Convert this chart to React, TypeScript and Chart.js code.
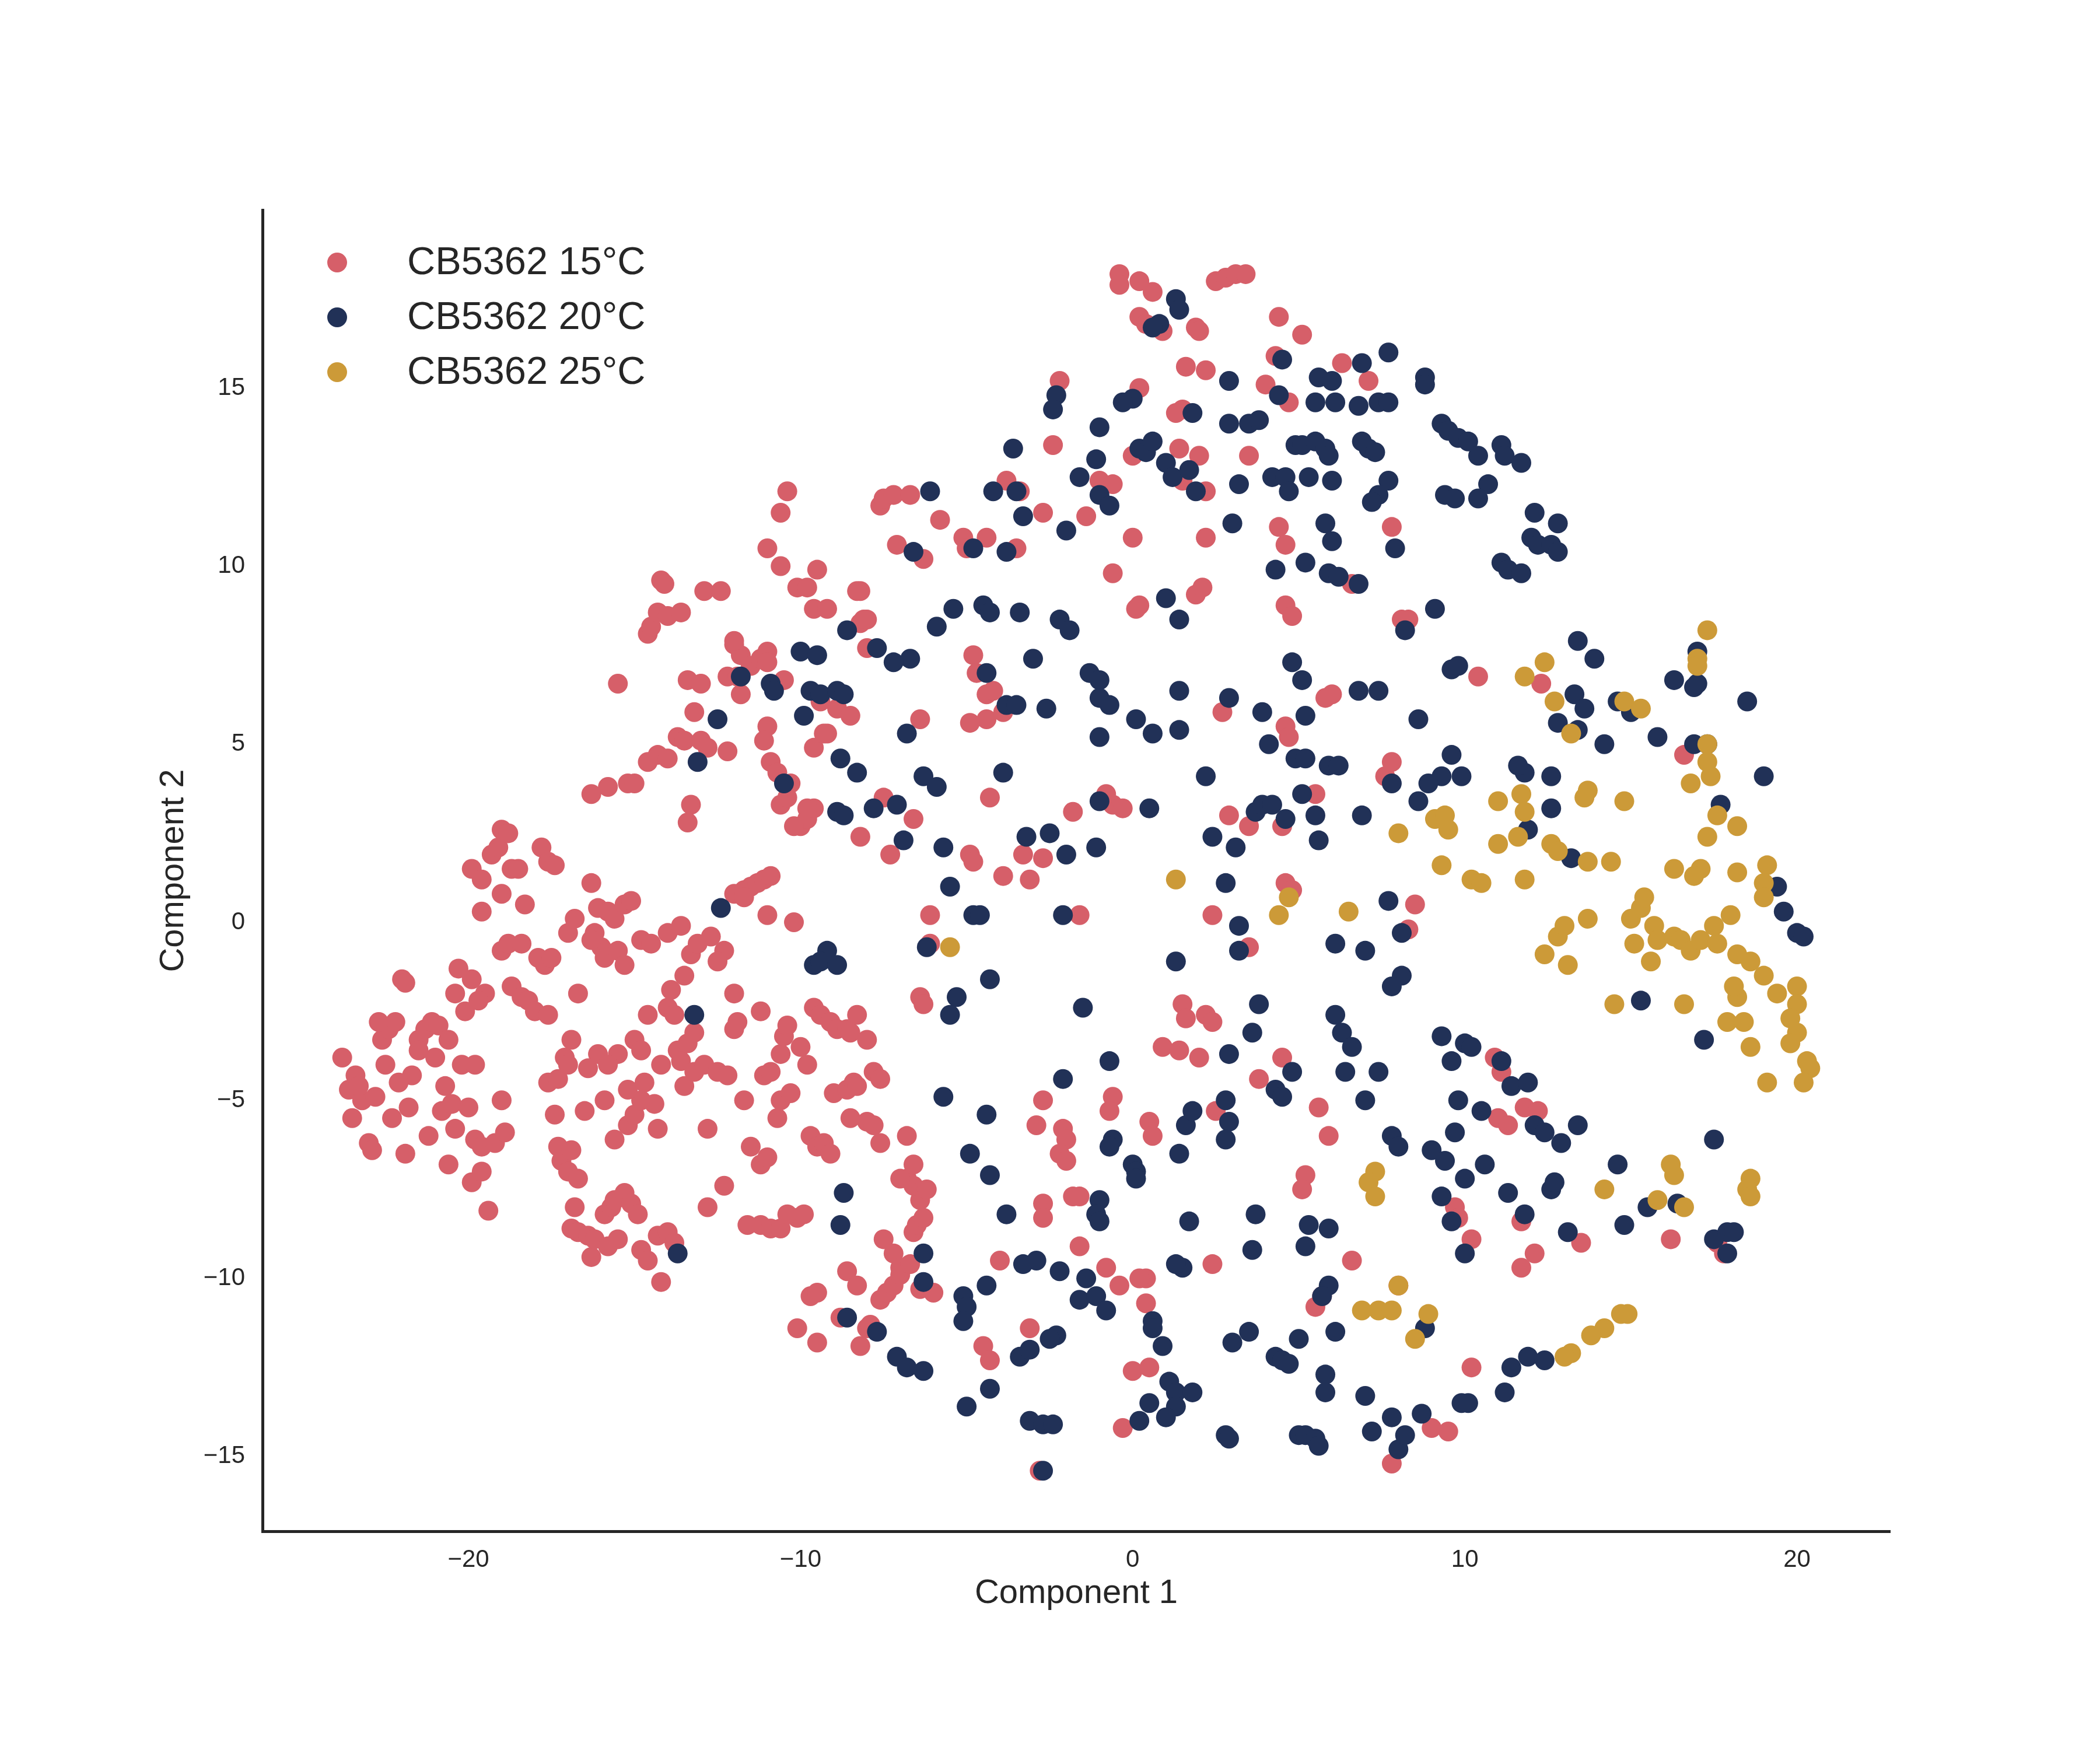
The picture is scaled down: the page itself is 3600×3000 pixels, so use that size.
import { useEffect, useRef } from "react";
import { Chart, ChartConfiguration, Plugin, registerables } from "chart.js";

Chart.register(...registerables);

const FONT = '"Liberation Sans", Arial, sans-serif';
const INK = "#262626";

const seriesLabels = ["CB5362 15°C", "CB5362 20°C", "CB5362 25°C"];
const seriesColors = ["#d65f69", "#213157", "#cc9a38"];

const xTicks = [-20, -10, 0, 10, 20];
const yTicks = [-15, -10, -5, 0, 5, 10, 15];
const xRange = [-26.2, 22.8];
const yRange = [-17.1, 20.0];

// 15°C
const red15: [number, number][] = [
  [-23.8,-3.8],[-23.6,-4.7],[-23.4,-4.3],[-23.2,-5.0],[-23.5,-5.5],[-23.0,-6.2],[-22.9,-6.4],[-22.8,-4.9],[-22.6,-3.3],[-22.5,-4.0],
  [-22.4,-3.0],[-22.3,-5.5],[-22.2,-2.8],[-22.0,-1.6],[-21.9,-1.7],[-21.7,-4.3],[-21.8,-5.2],[-21.9,-6.5],[-21.5,-3.3],[-21.3,-3.0],
  [-21.1,-2.8],[-20.9,-2.9],[-21.0,-3.8],[-20.6,-3.3],[-20.4,-2.0],[-20.7,-4.6],[-20.8,-5.3],[-20.5,-5.1],[-20.4,-5.8],[-20.2,-4.0],
  [-20.0,-5.2],[-19.8,-6.1],[-19.6,-6.3],[-19.9,-7.3],[-19.6,-7.0],[-19.4,-8.1],[-19.2,-6.2],[-19.0,-5.0],[-18.9,-5.9],[-19.8,-4.0],
  [-20.3,-1.3],[-19.9,-1.6],[-19.5,-2.0],[-19.7,-2.2],[-20.1,-2.5],[-21.5,-3.6],[-22.7,-2.8],[-23.3,-4.6],[-22.1,-4.5],[-21.2,-6.0],
  [-20.6,-6.8],
  [-19.9,1.5],[-19.6,1.2],[-19.3,1.9],[-19.1,2.1],[-19.0,2.6],[-18.8,2.5],[-18.7,1.5],[-18.5,1.5],[-19.0,0.8],[-18.3,0.5],
  [-17.8,2.1],[-17.6,1.7],[-17.4,1.6],[-19.6,0.3],[-19.0,-0.8],[-18.8,-0.6],[-18.4,-0.6],[-17.9,-1.0],[-17.7,-1.2],[-17.5,-1.0],
  [-18.7,-1.8],[-18.4,-2.1],[-18.2,-2.2],[-18.0,-2.5],[-17.6,-2.6],[-16.7,-2.0],[-17.0,-0.3],[-16.8,0.1],[-16.3,1.1],[-16.1,0.4],
  [-15.8,0.3],[-15.6,0.1],[-15.3,0.5],[-15.1,0.6],[-16.2,-0.3],[-16.0,-0.7],[-15.9,-1.0],[-15.5,-0.8],[-15.3,-1.2],[-16.3,-0.5],
  [-14.8,-0.5],[-14.5,-0.6],[-14.0,-0.3],[-13.6,-0.1],[-13.3,-0.9],[-13.1,-0.6],[-12.7,-0.4],[-17.6,-4.5],[-17.3,-4.4],[-17.1,-3.8],
  [-17.0,-4.0],[-17.4,-5.4],[-17.3,-6.3],[-17.2,-6.7],[-17.0,-7.0],[-16.9,-6.4],[-16.7,-7.2],[-16.8,-8.0],[-16.9,-8.6],[-16.7,-8.7],
  [-16.4,-8.8],[-16.3,-9.4],[-16.2,-8.9],[-15.9,-8.2],[-15.7,-8.0],[-15.6,-7.8],[-15.8,-9.1],[-15.5,-8.9],[-15.3,-7.6],[-15.1,-7.9],
  [-14.9,-8.2],[-14.8,-9.2],[-14.6,-9.5],[-14.3,-8.8],[-14.0,-8.7],[-14.2,-10.1],[-13.8,-9.0],[-15.6,-6.1],[-15.2,-5.7],[-15.0,-5.4],
  [-14.8,-5.0],[-14.4,-5.1],[-14.3,-5.8],[-15.2,-4.7],[-15.5,-3.7],[-15.0,-3.3],[-14.8,-3.6],[-14.7,-4.5],[-14.2,-4.0],[-14.0,-2.4],
  [-13.8,-2.6],[-13.7,-3.6],[-13.6,-3.9],[-13.4,-3.4],[-13.2,-3.1],[-13.5,-4.6],[-13.2,-4.2],[-12.9,-4.0],[-12.5,-4.2],[-12.2,-4.3],
  [-12.8,-5.8],[-14.6,-2.6],[-13.9,-1.9],[-13.5,-1.5],[-16.1,-3.7],[-16.4,-4.1],[-15.8,-4.0],[-16.5,-5.3],[-16.9,-3.3],[-15.9,-5.0],
  [-16.3,3.6],[-15.8,3.8],[-15.2,3.9],[-15.0,3.9],[-14.6,4.5],[-14.3,4.7],[-14.0,4.6],[-13.7,5.2],[-13.5,5.1],[-13.0,5.1],
  [-12.8,4.9],[-13.3,3.3],[-13.4,2.8],[-15.5,6.7],[-14.6,8.1],[-14.5,8.3],[-14.3,8.7],[-14.0,8.6],[-13.6,8.7],[-14.2,9.6],
  [-14.1,9.5],[-12.9,9.3],[-12.4,9.3],[-13.4,6.8],[-13.0,6.7],[-13.2,5.9],[-12.2,6.9],[-12.0,7.8],[-11.8,7.5],[-11.5,7.2],
  [-11.2,7.4],[-11.0,7.6],[-10.5,6.8],[-11.8,6.4],[-12.2,4.8],[-11.0,5.5],[-11.1,5.1],[-10.9,4.5],[-10.7,4.2],[-10.3,3.9],
  [-10.6,3.3],[-10.0,2.7],[-9.8,2.9],[-9.6,3.2],[-9.4,6.2],[-9.6,4.9],[-9.2,5.3],[-8.9,6.0],[-8.5,5.8],[-8.2,9.3],
  [-8.2,8.4],[-8.1,8.5],[-8.0,7.7],[-12.0,0.8],[-11.7,0.9],[-11.5,1.0],[-11.3,1.1],[-11.1,1.2],[-10.9,1.3],[-11.0,0.2],
  [-11.7,0.7],[-10.2,0.0],[-12.3,-0.8],[-12.5,-1.1],[-12.0,-2.0],[-11.9,-2.8],[-12.0,-3.0],[-11.2,-2.5],[-11.1,-4.3],[-10.9,-4.2],
  [-10.6,-3.7],[-10.5,-3.2],[-10.4,-2.9],[-10.0,-3.5],[-9.8,-4.0],[-9.6,-2.4],[-9.4,-2.6],[-9.1,-2.8],[-8.9,-3.0],[-8.6,-3.0],
  [-8.5,-3.1],[-8.3,-2.6],[-8.0,-3.3],[-7.8,-4.2],[-7.6,-4.4],[-11.7,-5.0],[-11.5,-6.3],[-11.2,-6.8],[-11.0,-6.6],[-10.7,-5.5],
  [-10.6,-5.0],[-10.3,-4.8],[-9.7,-6.0],[-9.5,-6.3],[-9.3,-6.2],[-9.1,-6.5],[-9.0,-4.8],[-8.6,-4.7],[-8.4,-4.5],[-8.3,-4.6],
  [-8.5,-5.5],[-8.0,-5.6],[-7.8,-5.7],[-7.6,-6.2],[-12.3,-7.4],[-11.6,-8.5],[-11.2,-8.5],[-10.9,-8.6],[-10.6,-8.6],[-10.1,-8.3],
  [-10.4,-8.2],[-9.9,-8.2],[-12.8,-8.0],[-9.7,-10.5],[-9.5,-10.4],[-10.1,-11.4],[-9.5,-11.8],[-8.8,-11.1],[-8.2,-11.9],[-8.0,-11.4],
  [-7.9,-11.3],[-7.6,-10.6],[-7.4,-10.4],[-7.2,-10.2],[-7.0,-9.9],[-7.5,-8.9],[-7.2,-9.3],[-7.0,-9.7],[-6.7,-9.6],[-6.6,-8.7],
  [-6.5,-8.5],[-6.3,-8.3],[-6.4,-7.8],[-6.6,-7.4],[-6.8,-7.2],[-7.0,-7.2],[-6.2,-7.5],[-6.6,-6.8],[-6.8,-6.0],[-8.6,-9.8],
  [-8.3,-10.2],[-6.0,-10.4],[-6.4,-10.3],
  [-10.4,12.1],[-10.6,11.5],[-11.0,10.5],[-10.6,10.0],[-10.1,9.4],[-9.6,8.8],[-11.0,7.3],[-12.0,7.9],[-11.9,6.9],[-9.8,9.4],
  [-9.5,9.9],[-9.2,8.8],[-8.3,9.3],[-8.0,8.5],[-7.6,11.7],[-7.5,11.9],[-7.2,12.0],[-6.7,12.0],[-7.1,10.6],[-6.3,10.2],
  [-5.8,11.3],[-5.1,10.8],[-5.0,10.5],[-4.4,10.8],[-3.8,12.4],[-3.4,12.1],[-2.4,13.4],[-2.2,15.2],[-1.4,11.4],[-3.5,10.5],
  [-2.7,11.5],[-1.0,12.4],[-0.6,12.3],[0.0,13.1],[0.2,15.0],[0.0,10.8],[-0.6,9.8],[0.1,8.8],[-0.4,18.2],[-0.4,17.9],
  [0.2,18.0],[0.6,17.7],[0.2,17.0],[0.4,16.8],[0.9,16.6],[1.9,16.7],[2.0,16.6],[1.6,15.6],[2.2,15.5],[1.5,14.4],
  [1.3,14.3],[1.4,13.3],[1.5,12.4],[2.0,13.1],[2.5,18.0],[2.8,18.1],[3.1,18.2],[3.4,18.2],[1.9,9.2],[2.1,9.4],
  [2.2,12.1],[2.2,10.8],[3.5,13.1],[4.4,17.0],[5.1,16.5],[4.3,15.9],[4.0,15.1],[4.7,14.6],[6.3,15.7],[7.1,15.2],
  [4.4,11.1],[4.6,10.6],[4.6,8.9],[4.8,8.6],[6.6,9.5],[7.8,11.1],[8.1,8.5],[8.3,8.5],[6.0,6.4],[5.8,6.3],
  [4.6,5.5],[4.7,5.2],[2.7,5.9],[-4.8,7.5],[-4.7,7.0],[-4.4,6.4],[-4.4,5.7],[-4.2,6.5],[-3.9,5.9],[-4.9,5.6],
  [-4.3,3.5],[-4.9,1.9],[-4.8,1.7],[-3.9,1.3],[-3.1,1.2],[-3.3,1.9],[-2.7,1.8],[-1.8,3.1],[-0.6,3.3],[-0.3,3.2],
  [-0.8,3.6],[-1.6,0.2],[-6.1,0.2],[-6.1,-0.6],[0.2,8.9],[-7.5,3.5],[-8.2,2.4],[-7.3,1.9],[-6.6,2.9],[-9.3,5.3],
  [-10.4,3.5],[-9.8,3.2],[-10.2,2.7],[-6.4,5.7],[2.9,3.0],[3.5,2.7],[4.5,2.7],[4.6,1.1],[4.8,0.9],[2.4,0.2],
  [3.5,-0.7],[5.5,3.6],[7.6,4.1],[7.8,4.5],[8.5,0.5],[8.3,-0.2],[10.4,6.9],[12.3,6.7],[16.6,4.7],
  [-6.4,-2.1],[-6.3,-2.3],[-2.7,-5.0],[-2.9,-5.7],[-2.1,-5.8],[-2.0,-6.1],[-2.2,-6.5],[-2.0,-6.7],[-1.8,-7.7],[-1.6,-7.7],
  [-2.7,-7.9],[-2.7,-8.3],[-0.6,-4.9],[-0.7,-5.3],[0.5,-5.6],[0.6,-6.0],[1.5,-2.3],[1.6,-2.7],[0.9,-3.5],[1.4,-3.6],
  [2.0,-3.8],[2.2,-2.6],[2.4,-2.8],[3.8,-4.4],[4.5,-3.8],[5.6,-5.2],[5.9,-6.0],[2.5,-5.3],[0.4,-10.0],[0.2,-10.0],
  [0.4,-10.7],[-0.4,-10.2],[-0.8,-9.7],[-1.6,-9.1],[-4.0,-9.5],[-4.5,-11.9],[-4.3,-12.3],[-3.1,-11.4],[-2.8,-15.4],[-0.3,-14.2],
  [0.0,-12.6],[0.5,-12.5],[2.4,-9.6],[5.5,-10.8],[5.7,-10.5],[6.6,-9.5],[5.2,-7.1],[5.1,-7.5],[8.0,-10.2],[7.8,-15.2],
  [9.0,-14.2],[9.5,-14.3],[10.2,-12.5],[9.7,-8.0],[9.8,-8.3],[10.2,-8.9],[11.0,-5.5],[11.3,-5.7],[11.8,-5.2],[12.2,-5.3],
  [11.7,-8.4],[11.7,-9.7],[13.5,-9.0],[12.1,-9.3],[10.9,-3.8],[11.1,-4.2],[17.6,-9.0],[17.8,-9.3],[16.2,-8.9],
];

// 20°C
const navy20: [number, number][] = [
  [1.3,17.5],[1.4,17.2],[0.8,16.8],[0.6,16.7],[0.0,14.7],[-0.3,14.6],[-1.0,13.9],[-2.3,14.8],[-2.4,14.4],[-3.6,13.3],
  [-3.5,12.1],[-4.2,12.1],[-3.3,11.4],[-2.0,11.0],[-1.6,12.5],[-1.1,13.0],[-1.0,12.0],[-0.7,11.7],[0.2,13.3],[0.4,13.2],
  [0.6,13.5],[1.0,12.9],[1.2,12.5],[1.7,12.7],[1.9,12.1],[1.8,14.3],[2.9,15.2],[2.9,14.0],[3.5,14.0],[3.8,14.1],
  [4.4,14.8],[4.5,15.8],[4.9,13.4],[5.1,13.4],[5.6,15.3],[5.5,14.6],[6.0,15.2],[6.1,14.6],[6.8,14.5],[6.9,15.7],
  [7.4,14.6],[7.7,16.0],[7.7,14.6],[8.8,15.3],[8.8,15.1],[5.5,13.5],[5.8,13.3],[5.9,13.1],[6.9,13.5],[7.1,13.3],
  [7.3,13.2],[7.7,12.4],[7.4,12.0],[7.2,11.8],[6.0,12.4],[5.8,11.2],[6.0,10.7],[4.2,12.5],[4.6,12.5],[4.7,12.1],
  [5.3,12.5],[3.2,12.3],[3.0,11.2],[5.2,10.1],[4.3,9.9],[5.9,9.8],[6.2,9.7],[6.8,9.5],[7.9,10.5],[8.2,8.2],
  [9.1,8.8],[9.3,14.0],[9.5,13.8],[9.8,13.6],[10.1,13.5],[10.4,13.1],[10.7,12.3],[11.1,13.4],[11.2,13.1],[11.7,12.9],
  [9.4,12.0],[9.7,11.9],[10.4,11.9],[12.1,11.5],[12.8,11.2],[12.0,10.8],[12.2,10.6],[12.6,10.6],[12.8,10.4],[11.1,10.1],
  [11.3,9.9],[11.7,9.8],[8.6,3.4],
  [-6.1,12.1],[-6.6,10.4],[-4.8,10.5],[-3.8,10.4],[-5.4,8.8],[-5.9,8.3],[-4.5,8.9],[-4.3,8.7],[-3.4,8.7],[-2.2,8.5],
  [-1.9,8.2],[-4.4,7.0],[-3.8,6.1],[-3.5,6.1],[-3.0,7.4],[-2.6,6.0],[-1.3,7.0],[-1.0,6.8],[-1.0,6.3],[-0.7,6.1],
  [0.1,5.7],[-1.0,5.2],[-6.7,7.4],[-7.2,7.3],[-7.7,7.7],[-8.6,8.2],[-10.0,7.6],[-9.5,7.5],[-10.9,6.7],[-10.8,6.5],
  [-9.7,6.5],[-9.4,6.4],[-8.9,6.5],[-8.7,6.4],[-11.8,6.9],[-12.5,5.7],[-13.1,4.5],[-9.9,5.8],[-10.5,3.9],[-8.8,4.6],
  [-8.3,4.2],[-6.3,4.1],[-5.9,3.8],[-6.8,5.3],[-8.9,3.1],[-8.7,3.0],[-7.8,3.2],[-7.1,3.3],[-5.7,2.1],[-5.5,1.0],
  [-4.8,0.2],[-4.6,0.2],[-6.9,2.3],[-6.2,-0.7],[-3.2,2.4],[-2.5,2.5],[-2.0,1.9],[-1.1,2.1],[-1.0,3.4],[-2.1,0.2],
  [0.5,3.2],[-3.9,4.2],[-12.4,0.4],[-9.2,-0.8],[-9.6,-1.2],[-9.4,-1.1],[-8.9,-1.2],[-5.3,-2.1],[-5.5,-2.6],[-1.5,-2.4],
  [-4.3,-1.6],[-13.2,-2.6],[-13.7,-9.3],[-8.8,-8.5],[-8.7,-7.6],[-5.7,-4.9],[-4.4,-5.4],[-4.9,-6.5],[-4.3,-7.1],[-3.8,-8.2],
  [-2.1,-4.4],[-0.7,-3.9],[-0.6,-6.1],[-0.7,-6.3],[0.0,-6.8],[0.1,-7.0],[1.4,-6.5],[1.6,-5.7],[1.8,-5.3],[0.1,-7.2],
  [-1.0,-7.8],[-1.1,-8.2],[-1.0,-8.4],[1.7,-8.4],[3.7,-8.2],[3.6,-9.2],[1.5,-9.7],[1.3,-9.6],[0.9,-11.9],[0.6,-11.2],
  [0.6,-11.4],[1.1,-12.9],[1.3,-13.2],[1.3,-13.6],[1.0,-13.9],[0.2,-14.0],[0.5,-13.5],[1.8,-13.2],[2.8,-14.4],[2.9,-14.5],
  [-1.6,-10.6],[-1.4,-10.0],[-1.1,-10.5],[-0.8,-10.9],[-2.3,-11.6],[-2.5,-11.7],[-2.2,-9.8],[-2.9,-9.5],[-3.3,-9.6],[-4.4,-10.2],
  [-5.1,-10.5],[-5.0,-10.8],[-5.1,-11.2],[-6.3,-9.3],[-6.3,-10.1],[-7.1,-12.2],[-6.8,-12.5],[-6.3,-12.6],[-7.7,-11.5],[-8.6,-11.1],
  [-5.0,-13.6],[-4.3,-13.1],[-3.4,-12.2],[-3.1,-12.0],[-3.1,-14.0],[-2.7,-14.1],[-2.4,-14.1],[-2.7,-15.4],[3.0,-11.8],[3.5,-11.5],
  [4.3,-12.2],[4.5,-12.3],[4.7,-12.4],[5.0,-11.7],[6.1,-11.5],[5.8,-12.7],[5.0,-14.4],[5.2,-14.4],[5.5,-14.5],[5.6,-14.7],
  [5.8,-13.2],[7.0,-13.3],[7.2,-14.3],[7.8,-13.9],[8.0,-14.8],[8.2,-14.4],[8.7,-13.8],[8.8,-11.4],[9.9,-13.5],[10.1,-13.5],
  [11.4,-12.5],[11.2,-13.2],[11.9,-12.2],[12.4,-12.3],[5.3,-8.5],[5.9,-8.6],[5.2,-9.1],[5.9,-10.2],[5.7,-10.5],[2.8,-5.0],
  [2.9,-5.6],[2.8,-6.1],[3.6,-3.1],[2.9,-3.7],[3.8,-2.3],[4.3,-4.7],[4.8,-4.2],[4.5,-4.9],[6.1,-2.6],[6.3,-3.1],
  [6.6,-3.5],[6.4,-4.2],[7.0,-5.0],[7.4,-4.2],[7.8,-6.0],[8.0,-6.3],[8.1,-1.5],[7.8,-1.8],[7.0,-0.8],[7.7,0.6],
  [8.1,-0.3],[6.1,-0.6],[9.3,-3.2],[10.0,-3.4],[10.2,-3.5],[9.6,-3.9],[9.8,-5.0],[10.5,-5.3],[11.1,-3.9],[11.4,-4.6],
  [11.9,-4.5],[9.0,-6.4],[9.4,-6.7],[9.7,-5.9],[9.3,-7.7],[10.0,-7.2],[10.6,-6.8],[9.6,-8.4],[10.0,-9.3],[11.3,-7.6],
  [11.8,-8.2],[12.6,-7.5],[12.7,-7.3],[13.1,-8.7],[12.1,-5.7],[12.4,-5.9],[12.9,-6.2],[13.4,-5.7],[14.6,-6.8],[15.3,-2.2],
  [14.8,-8.5],[15.5,-8.0],[16.4,-7.9],[17.5,-8.9],[17.9,-8.7],[18.1,-8.7],[17.9,-9.3],[17.5,-6.1],[17.2,-3.3],
  [13.4,7.9],[13.9,7.4],[13.3,6.4],[12.8,5.6],[13.4,5.4],[14.2,5.0],[13.6,6.0],[14.6,6.2],[15.0,5.9],[15.8,5.2],
  [16.3,6.8],[16.9,6.6],[17.0,6.7],[17.0,7.6],[16.9,5.0],[17.3,5.0],[18.5,6.2],[19.0,4.1],[17.7,3.3],[12.6,4.1],
  [11.8,4.2],[11.6,4.4],[12.6,3.2],[11.9,2.6],[13.2,1.8],[9.9,4.1],[9.3,4.1],[8.9,3.9],[7.8,3.9],[9.6,4.7],
  [8.6,5.7],[6.9,3.0],[9.6,7.1],[9.8,7.2],[7.4,6.5],[6.8,6.5],[19.4,1.0],[19.6,0.3],[20.0,-0.3],[20.2,-0.4],
  [4.1,5.0],[3.9,5.9],[4.8,7.3],[5.1,6.8],[4.9,4.6],[5.2,4.6],[5.9,4.4],[6.2,4.4],[5.2,5.8],[3.7,3.1],
  [3.9,3.3],[4.2,3.3],[4.6,2.9],[5.1,3.6],[5.5,3.0],[5.6,2.3],[3.1,2.1],[2.8,1.1],[2.4,2.4],[3.2,-0.1],
  [3.2,-0.8],[1.3,-1.1],[1.4,6.5],[0.6,5.3],[1.4,5.4],[2.2,4.1],[1.0,9.1],[1.4,8.5],[2.9,6.3],
];

// 25°C
const gold25: [number, number][] = [
  [17.3,8.2],[17.0,7.4],[17.0,7.2],[12.4,7.3],[11.8,6.9],[12.7,6.2],[13.2,5.3],[14.8,6.2],[15.3,6.0],[17.3,5.0],
  [17.3,4.5],[17.4,4.1],[16.8,3.9],[11.0,3.4],[11.7,3.6],[11.8,3.1],[11.6,2.4],[11.0,2.2],[12.6,2.2],[12.8,2.0],
  [11.8,1.2],[13.7,3.7],[13.6,3.5],[14.8,3.4],[13.7,1.7],[14.4,1.7],[16.3,1.5],[17.3,2.4],[17.6,3.0],[18.2,2.7],
  [18.2,1.4],[17.1,1.5],[16.9,1.3],[19.1,1.6],[19.0,1.1],[9.1,2.9],[9.4,3.0],[9.5,2.6],[9.3,1.6],[10.2,1.2],
  [10.5,1.1],[8.0,2.5],[6.5,0.3],[4.4,0.2],[4.7,0.7],[1.3,1.2],[-5.5,-0.7],
  [12.4,-0.9],[12.8,-0.4],[13.0,-0.1],[13.1,-1.2],[13.7,0.1],[14.5,-2.3],[15.0,0.1],[15.3,0.4],[15.4,0.7],[15.7,-0.1],
  [15.8,-0.5],[15.1,-0.6],[15.6,-1.1],[16.3,-0.4],[16.5,-0.5],[16.8,-0.8],[17.1,-0.5],[17.6,-0.6],[18.2,-0.9],[18.6,-1.1],
  [19.0,-1.5],[19.4,-2.0],[20.0,-1.8],[20.0,-2.3],[19.8,-2.7],[20.0,-3.1],[19.8,-3.4],[20.3,-3.9],[20.4,-4.1],[20.2,-4.5],
  [19.1,-4.5],[18.2,-2.1],[17.9,-2.8],[18.4,-2.8],[18.6,-3.5],[16.6,-2.3],[18.1,-1.8],[17.5,-0.1],[18.0,0.2],[19.0,0.7],
  [16.2,-6.8],[16.3,-7.1],[15.8,-7.8],[16.6,-8.0],[18.6,-7.2],[18.5,-7.5],[18.6,-7.7],[14.2,-7.5],[14.7,-11.0],[14.9,-11.0],
  [14.2,-11.4],[13.8,-11.6],[13.2,-12.1],[13.0,-12.2],[7.3,-7.0],[7.1,-7.3],[7.3,-7.7],[8.0,-10.2],[6.9,-10.9],[7.4,-10.9],
  [7.8,-10.9],[8.5,-11.7],[8.9,-11.0],
];

const seriesData = [red15, navy20, gold25];

const fmt = (v: number) => (v < 0 ? "\u2212" + Math.abs(v) : String(v));

// legend drawn inside the axes, top-left, like matplotlib's "upper left"
const insideLegend: Plugin<"scatter"> = {
  id: "insideLegend",
  afterDraw(chart) {
    const { ctx, chartArea } = chart;
    ctx.save();
    ctx.font = `66.7px ${FONT}`;
    ctx.textBaseline = "middle";
    ctx.textAlign = "left";
    chart.data.datasets.forEach((ds, i) => {
      const y = chartArea.top + 90 + i * 94;
      ctx.fillStyle = ds.backgroundColor as string;
      ctx.beginPath();
      ctx.arc(chartArea.left + 128, y, 17, 0, Math.PI * 2);
      ctx.fill();
      ctx.fillStyle = INK;
      ctx.fillText(ds.label ?? "", chartArea.left + 248, y + 2);
    });
    ctx.restore();
  },
};

export default function App() {
  const canvasRef = useRef<HTMLCanvasElement>(null);
  const chartRef = useRef<Chart | null>(null);

  useEffect(() => {
    if (!canvasRef.current) return;
    const ctx = canvasRef.current.getContext("2d");
    if (!ctx) return;

    if (chartRef.current) chartRef.current.destroy();

    Chart.defaults.font.family = FONT;
    Chart.defaults.color = INK;

    const config: ChartConfiguration<"scatter"> = {
      type: "scatter",
      data: {
        datasets: seriesData.map((pts, i) => ({
          label: seriesLabels[i],
          data: pts.map(([x, y]) => ({ x, y })),
          backgroundColor: seriesColors[i],
          borderWidth: 0,
          pointRadius: 17,
          pointHoverRadius: 17,
          order: 3 - i,
        })),
      },
      options: {
        responsive: true,
        maintainAspectRatio: false,
        animation: false,
        devicePixelRatio: 1,
        events: [],
        layout: { padding: { left: 230, right: 360, top: 360, bottom: 175 } },
        plugins: {
          legend: { display: false },
          tooltip: { enabled: false },
        },
        scales: {
          x: {
            type: "linear",
            position: "bottom",
            min: xRange[0],
            max: xRange[1],
            afterBuildTicks: (s) => {
              s.ticks = xTicks.map((v) => ({ value: v }));
            },
            afterFit: (s) => {
              s.height = 200;
            },
            grid: { display: false, drawTicks: false },
            border: { display: true, color: INK, width: 5 },
            ticks: {
              color: INK,
              padding: 24,
              font: { size: 42 },
              callback: (v) => fmt(Number(v)),
            },
            title: {
              display: true,
              text: "Component 1",
              color: INK,
              font: { size: 58 },
              padding: { top: 0, bottom: 58 },
            },
          },
          y: {
            type: "linear",
            position: "left",
            min: yRange[0],
            max: yRange[1],
            afterBuildTicks: (s) => {
              s.ticks = yTicks.map((v) => ({ value: v }));
            },
            afterFit: (s) => {
              s.width = 220;
            },
            grid: { display: false, drawTicks: false },
            border: { display: true, color: INK, width: 5 },
            ticks: {
              color: INK,
              padding: 30,
              font: { size: 42 },
              callback: (v) => fmt(Number(v)),
            },
            title: {
              display: true,
              text: "Component 2",
              color: INK,
              font: { size: 58 },
              padding: { top: 33, bottom: 0 },
            },
          },
        },
      },
      plugins: [insideLegend],
    };

    chartRef.current = new Chart(ctx, config);

    return () => {
      if (chartRef.current) {
        chartRef.current.destroy();
        chartRef.current = null;
      }
    };
  }, []);

  return (
    <div style={{ position: "absolute", left: 0, top: 0, width: 3600, height: 3000, background: "#fff" }}>
      <canvas ref={canvasRef} />
    </div>
  );
}
